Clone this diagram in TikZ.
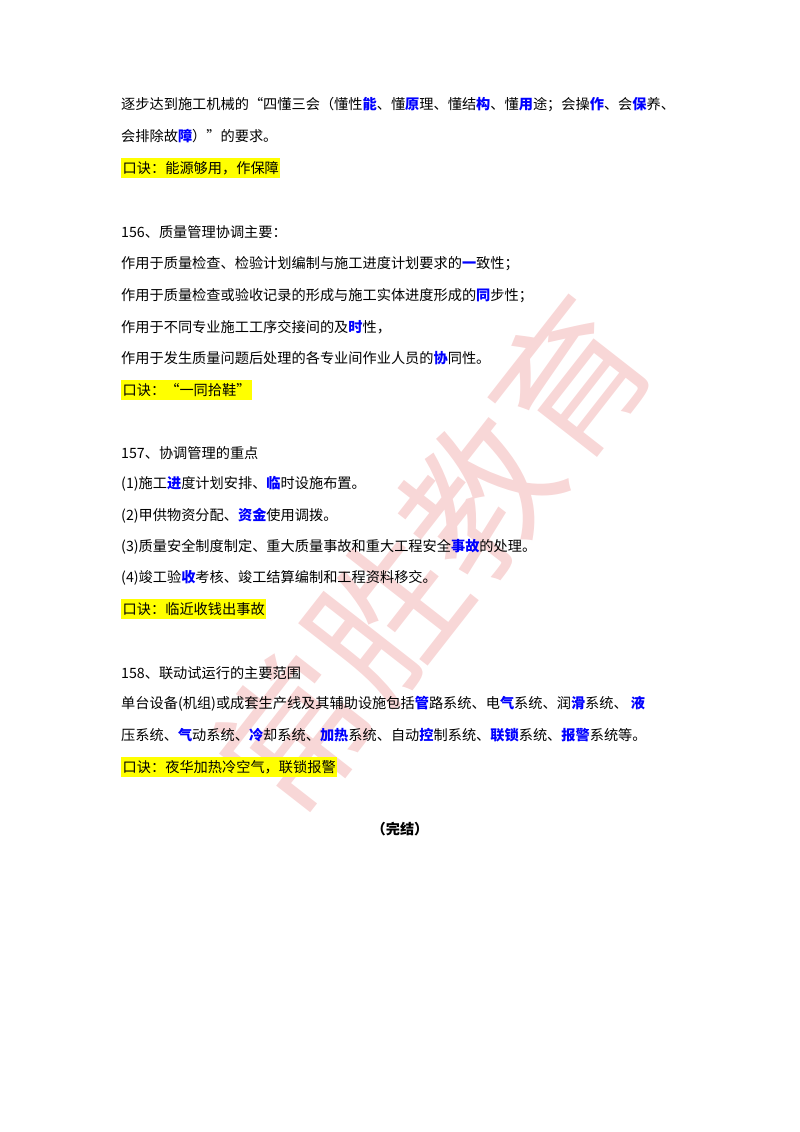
\documentclass[tikz,border=0pt]{standalone}
\usepackage{fontspec}
\setmainfont{Noto Sans CJK SC}
\definecolor{wm}{RGB}{246,205,205}
\definecolor{hl}{RGB}{255,255,0}
\newcommand{\bb}[1]{\textcolor{blue}{\bfseries #1}}
\tikzset{ln/.style={anchor=west,inner sep=0pt,font=\fontsize{14.2}{16}\selectfont},
 hil/.style={ln,fill=hl,inner xsep=1.5pt,inner ysep=3pt}}
\begin{document}
\begin{tikzpicture}[x=1pt,y=-1pt]
\useasboundingbox (0,0) rectangle (800,1132);
\node[rotate=52,text=wm,font=\fontsize{150}{150}\selectfont,opacity=0.8] (wm) at (432,556) {常胜教育};
\node[ln] (a1) at (121,105) {逐步达到施工机械的“四懂三会（懂性\bb{能}、懂\bb{原}理、懂结\bb{构}、懂\bb{用}途；会操\bb{作}、会\bb{保}养、};
\node[ln] (a2) at (121,136) {会排除故\bb{障}）”的要求。};
\node[hil] (a3) at (121,168) {口诀：能源够用，作保障};
\node[ln] (b0) at (121,232) {156、质量管理协调主要：};
\node[ln] (b1) at (121,264) {作用于质量检查、检验计划编制与施工进度计划要求的\bb{一}致性；};
\node[ln] (b2) at (121,296) {作用于质量检查或验收记录的形成与施工实体进度形成的\bb{同}步性；};
\node[ln] (b3) at (121,327) {作用于不同专业施工工序交接间的及\bb{时}性，};
\node[ln] (b4) at (121,358) {作用于发生质量问题后处理的各专业间作业人员的\bb{协}同性。};
\node[hil] (b5) at (121,390) {口诀：“一同拾鞋”};
\node[ln] (c0) at (121,453) {157、协调管理的重点};
\node[ln] (c1) at (121,484) {(1)施工\bb{进}度计划安排、\bb{临}时设施布置。};
\node[ln] (c2) at (121,516) {(2)甲供物资分配、\bb{资金}使用调拨。};
\node[ln] (c3) at (121,547) {(3)质量安全制度制定、重大质量事故和重大工程安全\bb{事故}的处理。};
\node[ln] (c4) at (121,578) {(4)竣工验\bb{收}考核、竣工结算编制和工程资料移交。};
\node[hil] (c5) at (121,609) {口诀：临近收钱出事故};
\node[ln] (d0) at (121,673) {158、联动试运行的主要范围};
\node[ln] (d1) at (121,704) {单台设备(机组)或成套生产线及其辅助设施包括\bb{管}路系统、电\bb{气}系统、润\bb{滑}系统、\ \bb{液}};
\node[ln] (d2) at (121,735) {压系统、\bb{气}动系统、\bb{冷}却系统、\bb{加热}系统、自动\bb{控}制系统、\bb{联锁}系统、\bb{报警}系统等。};
\node[hil] (d3) at (121,767) {口诀：夜华加热冷空气，联锁报警};
\node[ln,anchor=center,font=\fontsize{14.2}{16}\selectfont\bfseries] (e) at (400,829) {（完结）};
\end{tikzpicture}
\end{document}
